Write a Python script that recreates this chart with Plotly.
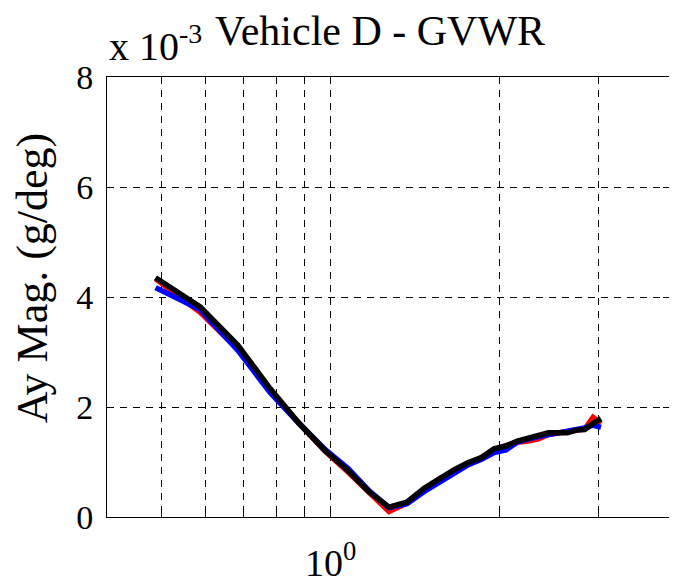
import plotly.graph_objects as go

# Frequency (Hz) - log axis
freq = [0.488, 0.586, 0.684, 0.781, 0.879, 0.977, 1.074, 1.172, 1.270, 1.367,
        1.465, 1.563, 1.660, 1.758, 1.855, 1.953, 2.051, 2.148, 2.246, 2.344,
        2.441, 2.539, 2.637, 2.734, 2.832, 2.930, 3.027]

# Ay magnitude (x 10^-3 g/deg)
ay_red = [4.33, 3.72, 3.05, 2.30, 1.70, 1.20, 0.82, 0.43, 0.10, 0.25,
          0.50, 0.70, 0.85, 0.97, 1.08, 1.22, 1.30, 1.36, 1.38, 1.42,
          1.50, 1.53, 1.55, 1.58, 1.60, 1.81, 1.70]
ay_blue = [4.17, 3.77, 3.03, 2.26, 1.70, 1.23, 0.88, 0.47, 0.17, 0.24,
           0.46, 0.64, 0.82, 0.95, 1.05, 1.17, 1.22, 1.36, 1.42, 1.47,
           1.50, 1.53, 1.56, 1.58, 1.62, 1.67, 1.63]
ay_black = [4.35, 3.82, 3.12, 2.33, 1.70, 1.21, 0.84, 0.45, 0.18, 0.27,
            0.52, 0.70, 0.86, 0.99, 1.08, 1.24, 1.29, 1.38, 1.43, 1.47,
            1.53, 1.53, 1.53, 1.58, 1.59, 1.70, 1.79]

x_tickvals = [0.5, 0.6, 0.7, 0.8, 0.9, 1, 2, 3]
x_ticktext = ["", "", "", "", "", "10<sup>0</sup>", "", ""]
y_tickvals = [0, 2, 4, 6, 8]
y_ticktext = ["0", "2", "4", "6", "8"]

FONT = "Liberation Serif, Times New Roman, serif"

fig = go.Figure()
for ys, col in [(ay_red, "#ff0000"), (ay_blue, "#0000ff"), (ay_black, "#000000")]:
    fig.add_trace(go.Scatter(x=freq, y=ys, mode="lines",
                             line=dict(color=col, width=5.5), showlegend=False))

# page body has an 8px default margin, so the figure is sized to fit the window
fig.update_layout(
    width=669, height=576,
    margin=dict(l=99, r=8, t=69, b=67),
    paper_bgcolor="white", plot_bgcolor="white",
    font=dict(family=FONT, color="black"),
    showlegend=False,
)
fig.update_xaxes(
    type="log", range=[-0.39794, 0.60206], automargin=False,
    tickmode="array", tickvals=x_tickvals, ticktext=x_ticktext,
    tickfont=dict(size=38, family=FONT),
    ticks="inside", ticklen=6, tickcolor="black",
    showline=True, linecolor="black", linewidth=1, mirror="ticks",
    showgrid=True, gridcolor="black", gridwidth=1, griddash="7px,6px",
    zeroline=False, ticklabelstandoff=12,
)
fig.update_yaxes(
    range=[0, 8], automargin=False,
    tickmode="array", tickvals=y_tickvals, ticktext=y_ticktext,
    tickfont=dict(size=34, family=FONT),
    ticks="inside", ticklen=6, tickcolor="black",
    showline=True, linecolor="black", linewidth=1, mirror="ticks",
    showgrid=True, gridcolor="black", gridwidth=1, griddash="7px,6px",
    zeroline=False, ticklabelstandoff=6,
)

fig.add_annotation(text="Vehicle D - GVWR", xref="paper", yref="paper",
                   x=0.4858, y=1.104, xanchor="center", yanchor="middle",
                   showarrow=False, font=dict(size=42, family=FONT))
fig.add_annotation(text="x 10<sup>-3</sup>", xref="paper", yref="paper",
                   x=0.0, y=1.077, xanchor="left", yanchor="middle",
                   showarrow=False, font=dict(size=40, family=FONT))
fig.add_annotation(text="Ay Mag. (g/deg)", xref="paper", yref="paper",
                   x=-0.1328, y=0.5436, xanchor="center", yanchor="middle",
                   textangle=-90, showarrow=False, font=dict(size=44, family=FONT))

fig.write_html("out.html")
